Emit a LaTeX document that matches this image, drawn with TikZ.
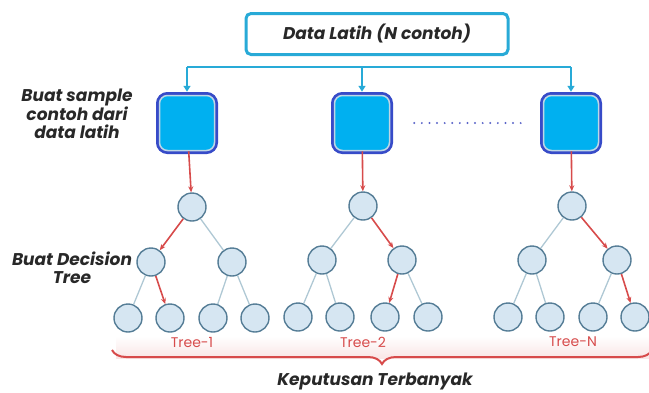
\documentclass[tikz,border=0pt]{standalone}
\usepackage{fontspec}
\setsansfont{Poppins}
\usepackage{xcolor}
\usetikzlibrary{positioning,arrows.meta,decorations.pathreplacing}
\definecolor{cyanline}{RGB}{40,170,215}
\definecolor{sqblue}{RGB}{55,75,200}
\definecolor{sqfill}{RGB}{0,176,240}
\definecolor{sqlight}{RGB}{190,215,230}
\definecolor{leaffill}{RGB}{214,230,242}
\definecolor{leafdraw}{RGB}{85,125,150}
\definecolor{branchgrey}{RGB}{175,200,212}
\definecolor{redline}{RGB}{215,75,75}
\definecolor{dotblue}{RGB}{90,100,200}
\definecolor{txtgrey}{RGB}{40,40,40}

\begin{document}
\begin{tikzpicture}[x=1pt,y=-1pt,
					datanode/.style={
						draw=cyanline, fill=white, line width=3pt,
						rounded corners=5pt, minimum width=262pt, minimum height=41pt,
						font=\sffamily\bfseries\itshape\fontsize{17}{19}\selectfont, text=txtgrey
					},
					sample/.style={
						fill=sqfill, draw=sqlight, line width=1.5pt,
						minimum width=55pt, minimum height=55pt, rounded corners=8pt,
						preaction={draw=sqblue, line width=7pt}
					},
					leaf/.style={
						circle, draw=leafdraw, fill=leaffill, line width=1.4pt,
						minimum size=28pt, inner sep=0pt
					},
					branch/.style={draw=branchgrey, line width=1.3pt},
					pick/.style={draw=redline, line width=1.6pt, -{Stealth[length=6pt,width=5pt]}},
					feed/.style={draw=cyanline, line width=2pt, -{Triangle[length=6pt,width=7pt]}},
					treelabel/.style={text=redline, font=\sffamily\fontsize{14}{16}\selectfont},
					sidelabel/.style={font=\sffamily\bfseries\itshape\fontsize{17}{18}\selectfont, text=txtgrey, align=center}
					]
					\useasboundingbox (0,0) rectangle (649,392);
					
					% kotak data latih di atas
					\node[datanode] (data) at (377,34) {Data Latih (N contoh)};
					
					% garis pembagi ke tiap sample
					\coordinate (h1) at (187,67);
					\coordinate (h2) at (362,67);
					\coordinate (h3) at (571,67);
					\draw[cyanline, line width=2pt] (h1) -- (h3);
					
					% kotak sample
					\node[sample] (s1) at (187,123) {};
					\node[sample] (s2) at (362,123) {};
					\node[sample] (s3) at (571,123) {};
					\draw[feed, shorten >=3pt] (h1) -- (s1);
					\draw[feed, shorten >=3pt] (h2) -- (s2);
					\draw[feed, shorten >=3pt] (h3) -- (s3);
					
					% titik-titik antara sample 2 dan N
					\draw[dotblue, line width=2.2pt, line cap=round, dash pattern=on 0pt off 7.6pt,
						shorten <=24pt, shorten >=22pt] (s2) -- (s3);
					
					% label kiri
					\node[sidelabel] (lsample) at (77,114) {Buat sample\\contoh dari\\data latih};
					\node[sidelabel] (ltree) at (72,268) {Buat Decision\\Tree};
					
					% Tree-1
					\node[leaf] (r1) at (192,207) {};
					\node[leaf] (a1) at (151,262) {};
					\node[leaf] (b1) at (232,262) {};
					\node[leaf] (c1) at (128,318) {};
					\node[leaf] (d1) at (170,318) {};
					\node[leaf] (e1) at (213,318) {};
					\node[leaf] (f1) at (255,318) {};
					\draw[branch] (r1) -- (b1) (a1) -- (c1) (b1) -- (e1) (b1) -- (f1);
					\draw[pick] (r1) -- (a1);
					\draw[pick] (a1) -- (d1);
					
					% Tree-2
					\node[leaf] (r2) at (363,206) {};
					\node[leaf] (a2) at (322,260) {};
					\node[leaf] (b2) at (402,260) {};
					\node[leaf] (c2) at (298,317) {};
					\node[leaf] (d2) at (340,317) {};
					\node[leaf] (e2) at (385,317) {};
					\node[leaf] (f2) at (428,317) {};
					\draw[branch] (r2) -- (a2) (a2) -- (c2) (a2) -- (d2) (b2) -- (f2);
					\draw[pick] (r2) -- (b2);
					\draw[pick] (b2) -- (e2);
					
					% Tree-N
					\node[leaf] (r3) at (572,206) {};
					\node[leaf] (a3) at (532,260) {};
					\node[leaf] (b3) at (617,260) {};
					\node[leaf] (c3) at (508,317) {};
					\node[leaf] (d3) at (550,317) {};
					\node[leaf] (e3) at (593,317) {};
					\node[leaf] (f3) at (635,317) {};
					\draw[branch] (r3) -- (a3) (a3) -- (c3) (a3) -- (d3) (b3) -- (e3);
					\draw[pick] (r3) -- (b3);
					\draw[pick] (b3) -- (f3);
					
					% sample ke akar pohon
					\draw[pick] (s1) -- (r1);
					\draw[pick] (s2) -- (r2);
					\draw[pick] (s3) -- (r3);
					
					% pita merah muda dan kurung kurawal
					\shade[top color=white, bottom color=redline!14] (116,336) rectangle (649,358);
					\node[treelabel] (t1) at (192,342) {Tree-1};
					\node[treelabel] (t2) at (363,342) {Tree-2};
					\node[treelabel] (t3) at (573,342) {Tree-N};
					\draw[redline, line width=2pt, decorate,
						decoration={brace, mirror, amplitude=14pt}] (112,350) -- (652,350);
					
					\node[sidelabel] (vote) at (375,381) {Keputusan Terbanyak};
				\end{tikzpicture}
\end{document}
